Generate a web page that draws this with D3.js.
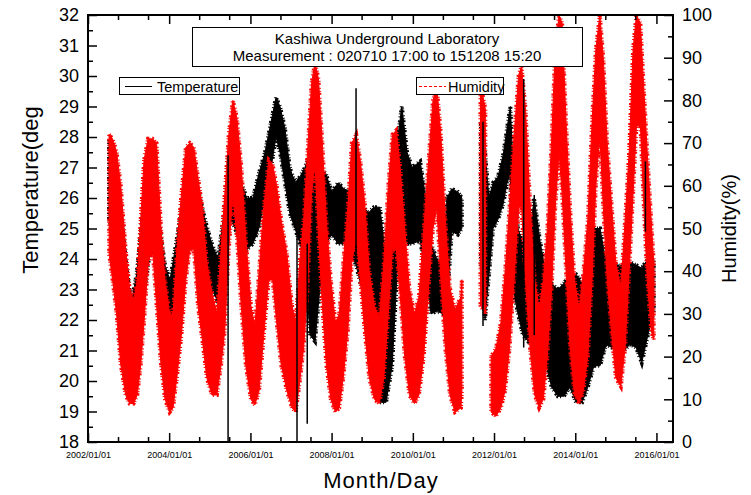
<!DOCTYPE html>
<html>
<head>
<meta charset="utf-8">
<script src="https://cdn.jsdelivr.net/npm/d3@7"></script>
<style>
  body { margin: 0; background: #fff; }
  svg { display: block; font-family: "Liberation Sans", Arial, sans-serif; }
</style>
</head>
<body>
<div id="chart"></div>
<script>
// temperature envelope (deg); null = no data
var tempDates = ["2002-07-10","2002-08-22","2002-10-16","2002-12-06","2003-01-23","2003-03-14","2003-05-08","2003-07-02",
  "2003-08-15","2003-10-09","2003-11-25","2004-01-08","2004-03-03","2004-04-27","2004-06-17","2004-08-11","2004-10-05",
  "2004-11-25","2005-01-19","2005-03-15","2005-05-08","2005-06-28","2005-08-15","2005-10-09","2005-11-29","2006-01-23",
  "2006-03-18","2006-05-12","2006-07-06","2006-08-19","2006-09-24","2006-11-07","2006-12-21","2007-02-06","2007-03-23",
  "2007-05-06","2007-06-21","2007-08-05","2007-09-17","2007-11-10","2008-01-04","2008-02-28","2008-04-23","2008-06-14",
  "2008-08-08","2008-10-01","2008-11-25","2009-01-15","2009-03-10","2009-05-05","2009-06-29","2009-08-19","2009-09-24",
  "2009-11-10","2009-12-24","2010-03-08","2010-04-27","2010-06-14","2010-08-04","2010-09-28","2010-11-03","2010-12-17",
  "2011-02-10","2011-03-18","2011-06-01","2011-09-06","2011-10-12","2011-11-17","2011-12-24","2012-02-06","2012-03-23",
  "2012-04-28","2012-05-27","2012-06-21","2012-08-04","2012-09-17","2012-11-03","2012-12-28","2013-02-17","2013-04-13",
  "2013-06-03","2013-07-28","2013-09-20","2013-11-14","2014-01-08","2014-03-04","2014-04-24","2014-06-18","2014-08-12",
  "2014-10-05","2014-11-25","2015-01-19","2015-03-15","2015-05-08","2015-07-02","2015-08-22","2015-10-16","2015-12-08"];
var tempLow = [25.3,24.5,22.5,20.5,20.3,20.5,22.5,24,24.5,23.5,22.3,22,22.5,24,25,25.2,24.5,23.5,23,22.6,23.5,25.5,25,24.5,
  24.3,24.5,25,26,27,28,27.5,26.5,25.5,25,24.5,24,21.5,21.3,23,24.5,24.8,24.5,24.5,24.3,23.8,23,22.3,21,19.3,19.3,20.5,24,
  25,24.5,24.5,24.6,23.5,22.2,22.3,22.2,22.5,24.9,24.8,25,null,24,22,23.5,25,25.3,25.8,26.5,26.8,23,22.2,21.5,21.3,21.5,
  21.7,20.5,19.8,19.5,19.5,19.8,19.3,19.3,19.8,20.5,20.5,21.2,21.1,21.2,21,21.2,21.1,20.6,21.5,22.3];
var tempHigh = [27.9,27.5,26,24,22.5,23.5,25.5,26.5,26.2,25,23.8,23.3,24.5,25.8,26.5,26.8,26,25.2,24.5,24,25.5,27.2,27,26.5,
  26,26,26.8,27.5,28.5,29.3,29,28.3,27,26.5,26.7,27,27.5,27.7,27,26.8,26.2,26.5,26.3,26.2,26,25.8,25.5,25.7,25.7,24,24,28,
  29,27.5,27,27.2,26,24.5,24,23.9,26,26.3,26.2,26,null,28.5,27.5,26,26.5,26.7,27.4,28.3,29,27,25,24.5,24.4,26,24.6,23.5,
  23.2,23,23.2,23.5,23.5,23.2,23.3,25,25,23.9,23.9,23.8,23.7,23.9,23.8,23.7,24,24];

// single-reading temperature excursions
var spikeDates = ["2005-06-14","2007-02-24","2007-05-27","2008-08-08","2011-09-24","2012-09-24","2012-12-28","2015-09-24"];
var spikeLow = [18.0,18.0,18.6,24,21.8,21.1,21.5,24.9];
var spikeHigh = [27.4,25.5,24.5,29.6,28.5,29.9,26.1,27.2];

// humidity envelope (%)
var humDates = ["2002-07-10","2002-08-10","2002-09-15","2002-10-23","2002-12-06","2003-01-10","2003-02-15","2003-03-20",
  "2003-04-20","2003-05-20","2003-06-25","2003-08-05","2003-09-10","2003-10-20","2003-11-25","2004-01-05","2004-02-05",
  "2004-03-10","2004-04-20","2004-05-30","2004-07-05","2004-08-10","2004-09-16","2004-10-25","2004-12-05","2005-01-20",
  "2005-03-05","2005-04-12","2005-05-15","2005-06-20","2005-07-27","2005-09-01","2005-10-10","2005-11-20","2006-01-05",
  "2006-02-10","2006-03-20","2006-05-01","2006-06-15","2006-07-20","2006-08-25","2006-10-05","2006-11-25","2007-01-10",
  "2007-02-13","2007-03-20","2007-04-25","2007-05-30","2007-07-05","2007-08-05","2007-09-05","2007-10-10","2007-11-15",
  "2007-12-25","2008-02-05","2008-03-10","2008-04-15","2008-05-26","2008-07-01","2008-08-10","2008-09-15","2008-10-25",
  "2008-12-05","2009-01-20","2009-03-05","2009-04-15","2009-05-25","2009-07-01","2009-08-05","2009-09-10","2009-10-20",
  "2009-12-01","2010-01-15","2010-02-25","2010-04-09","2010-05-20","2010-07-01","2010-08-05","2010-09-10","2010-10-20",
  "2010-12-01","2011-01-15","2011-03-10","2011-03-18","2011-06-01","2011-09-01","2011-10-15","2011-11-10","2011-12-06",
  "2012-01-19","2012-03-03","2012-04-10","2012-05-20","2012-06-30","2012-08-10","2012-09-05","2012-10-10","2012-11-20",
  "2013-01-01","2013-02-10","2013-03-20","2013-04-25","2013-06-01","2013-07-05","2013-08-08","2013-09-05","2013-10-10",
  "2013-11-15","2013-12-25","2014-02-05","2014-03-15","2014-04-24","2014-06-01","2014-07-05","2014-08-10","2014-09-10",
  "2014-10-15","2014-11-25","2015-01-01","2015-02-15","2015-03-25","2015-05-01","2015-06-05","2015-07-05","2015-08-10",
  "2015-09-05","2015-10-10","2015-11-15","2015-12-08"];
var humLow = [44,38,30,18,11,9,9,11,18,28,42,45,32,18,10,7,8,15,25,38,45,45,32,24,15,11,11,18,26,45,58,48,32,18,10,8.7,12,
  25,38,38,28,18,12,8,7,14,22,36,58,65,48,32,18,10,7,8,15,26,42,48,38,26,15,10,9,15,30,45,45,34,20,11,9,11,20,35,50,55,38,
  22,11,7,8,12,null,32,30,null,7,6,8,12,22,38,55,55,38,22,11,8,10,20,35,55,68,58,40,22,11,9,12,20,38,60,72,55,38,25,15,13,
  22,40,58,74,74,58,38,26,24];
var humHigh = [72,71,68,60,45,36,33,38,52,66,71,71,70,50,38,30,30,45,58,69,70,69,62,55,42,35,30,45,58,72,80,76,65,48,32,27,
  40,55,66,65,60,52,44,32,28,42,52,68,84,89,85,70,52,38,28,30,42,55,70,72,66,56,40,32,29,42,60,72,73,64,50,36,30,34,50,65,
  80,83,72,52,36,31,34,38,null,84,78,null,20,22,28,40,55,72,86,88,78,56,38,31,38,50,70,92,100,98,75,55,38,31,40,52,75,92,
  100,90,70,55,42,36,52,68,92,100,98,85,68,52,42];

var tempTicks = d3.range(18, 32.01, 1);
var humTicks = d3.range(0, 100.1, 10);
var yearTicks = ["2002-01-01","2004-01-01","2006-01-01","2008-01-01","2010-01-01","2012-01-01","2014-01-01","2016-01-01"];

var parse = d3.timeParse("%Y-%m-%d");
function rows(dates, lo, hi) {
  return dates.map(function(d, i) { return {date: parse(d), lo: lo[i], hi: hi[i]}; });
}
var tempData = rows(tempDates, tempLow, tempHigh),
    humData = rows(humDates, humLow, humHigh),
    spikeData = rows(spikeDates, spikeLow, spikeHigh);

var svgW = 751, svgH = 495,
    pLeft = 88, pRight = 673, pTop = 15, pBottom = 442;

var x = d3.scaleTime()
    .domain([parse("2002-01-01"), parse("2016-05-29")])
    .range([pLeft, pRight]);
var yT = d3.scaleLinear().domain([18, 32]).range([pBottom, pTop]);
var yH = d3.scaleLinear().domain([0, 100]).range([pBottom, pTop]);

var majors = yearTicks.map(parse);
var minors = [];
majors.forEach(function(m) {
  [270, 540].forEach(function(k) {
    var t = d3.timeDay.offset(m, k);
    if (t < x.domain()[1]) minors.push(t);
  });
});

var svg = d3.select("#chart").append("svg")
    .attr("width", svgW)
    .attr("height", svgH);

svg.append("defs").append("clipPath")
    .attr("id", "clip")
  .append("rect")
    .attr("x", pLeft).attr("y", pTop)
    .attr("width", pRight - pLeft).attr("height", pBottom - pTop);

var plot = svg.append("g").attr("clip-path", "url(#clip)");

var defined = function(d) { return d.lo != null && d.hi != null; };

function band(data, y, color) {
  var area = d3.area().defined(defined)
      .x(function(d) { return x(d.date); })
      .y0(function(d) { return y(d.lo); })
      .y1(function(d) { return y(d.hi); });
  plot.append("path")
      .datum(data)
      .attr("fill", color)
      .attr("stroke", color)
      .attr("stroke-width", 1)
      .attr("d", area);
  // ragged fringe, the raw readings are very noisy
  plot.append("path")
      .datum(data)
      .attr("fill", "none")
      .attr("stroke", color)
      .attr("stroke-width", 4)
      .attr("stroke-dasharray", "1,1,2,3,1,2")
      .attr("d", area);
}

band(tempData, yT, "#000");
band(humData, yH, "#ff0000");

plot.selectAll("line.spike")
    .data(spikeData)
  .enter().append("line")
    .attr("class", "spike")
    .attr("x1", function(d) { return x(d.date); })
    .attr("x2", function(d) { return x(d.date); })
    .attr("y1", function(d) { return yT(d.lo); })
    .attr("y2", function(d) { return yT(d.hi); })
    .attr("stroke", "#000")
    .attr("stroke-width", 1.5);

// axes, ticks point inward
function style(g, size) {
  g.select(".domain").remove();
  g.selectAll(".tick line").attr("stroke", "#000").attr("stroke-width", 1.5);
  g.selectAll("text").attr("fill", "#000").attr("font-size", size);
}

svg.append("g")
    .attr("transform", "translate(" + pLeft + ",0)")
    .call(d3.axisLeft(yT).tickValues(tempTicks).tickSize(-9).tickPadding(9).tickFormat(d3.format("d")))
    .call(style, 18);
svg.append("g")
    .attr("transform", "translate(" + pLeft + ",0)")
    .call(d3.axisLeft(yT).tickValues(d3.range(18.5, 32, 1)).tickSize(-5).tickFormat(""))
    .call(style, 0);

svg.append("g")
    .attr("transform", "translate(" + pRight + ",0)")
    .call(d3.axisRight(yH).tickValues(humTicks).tickSize(-9).tickPadding(9).tickFormat(d3.format("d")))
    .call(style, 18);
svg.append("g")
    .attr("transform", "translate(" + pRight + ",0)")
    .call(d3.axisRight(yH).tickValues(d3.range(5, 100, 10)).tickSize(-5).tickFormat(""))
    .call(style, 0);

svg.append("g")
    .attr("transform", "translate(0," + pBottom + ")")
    .call(d3.axisBottom(x).tickValues(majors).tickSize(-9).tickPadding(10).tickFormat(d3.timeFormat("%Y/%m/%d")))
    .call(style, 9);
svg.append("g")
    .attr("transform", "translate(0," + pBottom + ")")
    .call(d3.axisBottom(x).tickValues(minors).tickSize(-5).tickFormat(""))
    .call(style, 0);
svg.append("g")
    .attr("transform", "translate(0," + pTop + ")")
    .call(d3.axisTop(x).tickValues(majors).tickSize(-9).tickFormat(""))
    .call(style, 0);
svg.append("g")
    .attr("transform", "translate(0," + pTop + ")")
    .call(d3.axisTop(x).tickValues(minors).tickSize(-5).tickFormat(""))
    .call(style, 0);

svg.append("rect")
    .attr("x", pLeft).attr("y", pTop)
    .attr("width", pRight - pLeft).attr("height", pBottom - pTop)
    .attr("fill", "none")
    .attr("stroke", "#000")
    .attr("stroke-width", 2);

// axis titles
svg.append("text")
    .attr("transform", "translate(30,190) rotate(-90)")
    .attr("text-anchor", "middle")
    .attr("dominant-baseline", "central")
    .attr("font-size", 22)
    .text("Temperature(deg");
svg.append("text")
    .attr("transform", "translate(729," + (pTop + pBottom) / 2 + ") rotate(-90)")
    .attr("text-anchor", "middle")
    .attr("dominant-baseline", "central")
    .attr("font-size", 20)
    .text("Humidity(%)");
svg.append("text")
    .attr("x", 381).attr("y", 488)
    .attr("text-anchor", "middle")
    .attr("font-size", 22)
    .attr("letter-spacing", 1)
    .text("Month/Day");

// title box
var tb = svg.append("g");
tb.append("rect")
    .attr("x", 192.5).attr("y", 27.5).attr("width", 390).attr("height", 39)
    .attr("fill", "#fff").attr("stroke", "#000").attr("stroke-width", 1);
tb.append("text").attr("x", 387).attr("y", 44).attr("text-anchor", "middle")
    .attr("font-size", 15).text("Kashiwa Underground Laboratory");
tb.append("text").attr("x", 387).attr("y", 61).attr("text-anchor", "middle")
    .attr("font-size", 15).text("Measurement : 020710 17:00 to 151208 15:20");

// legends
var lg1 = svg.append("g");
lg1.append("rect").attr("x", 119.5).attr("y", 77.5).attr("width", 120).attr("height", 17)
    .attr("fill", "#fff").attr("stroke", "#000").attr("stroke-width", 1);
lg1.append("line").attr("x1", 125).attr("x2", 152).attr("y1", 86.5).attr("y2", 86.5)
    .attr("stroke", "#000").attr("stroke-width", 1);
lg1.append("text").attr("x", 157).attr("y", 92).attr("font-size", 14.5).text("Temperature");

var lg2 = svg.append("g");
lg2.append("rect").attr("x", 416.5).attr("y", 77.5).attr("width", 87).attr("height", 17)
    .attr("fill", "#fff").attr("stroke", "#000").attr("stroke-width", 1);
lg2.append("line").attr("x1", 419).attr("x2", 446).attr("y1", 86.5).attr("y2", 86.5)
    .attr("stroke", "#ff0000").attr("stroke-width", 1).attr("stroke-dasharray", "3,2");
lg2.append("text").attr("x", 448).attr("y", 92).attr("font-size", 14.5).text("Humidity");
</script>
</body>
</html>
